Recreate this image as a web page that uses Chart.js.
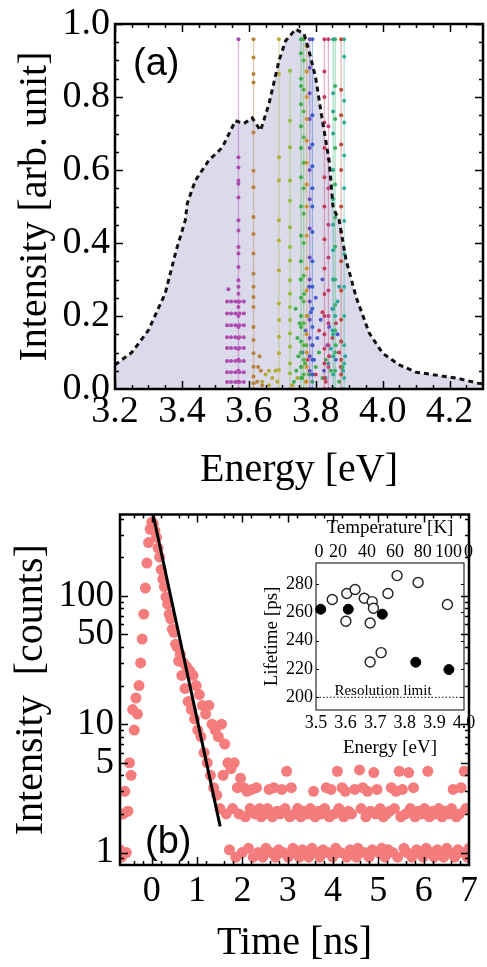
<!DOCTYPE html>
<html>
<head>
<meta charset="utf-8">
<script src="https://cdn.jsdelivr.net/npm/chart.js@4.4.1/dist/chart.umd.min.js"></script>
<style>
  html, body { margin: 0; padding: 0; background: #fff; }
  #page { position: relative; width: 487px; height: 967px; overflow: hidden; }
  .box { position: absolute; }
</style>
</head>
<body>
<div id="page">
  <canvas id="specChart" class="box" style="left:0;top:0" width="487" height="490"></canvas>
  <canvas id="decayChart" class="box" style="left:0;top:490px" width="487" height="477"></canvas>
  <canvas id="lifeChart" class="box" style="left:262px;top:515px" width="225" height="245"></canvas>
</div>
<script>
// ---------- (a) spectrum ----------
const energyTicks = [3.2, 3.4, 3.6, 3.8, 4.0, 4.2];
const intensityTicks = [0, 0.2, 0.4, 0.6, 0.8, 1.0];

// ensemble spectrum (dashed envelope)
const envEnergy = [3.20, 3.25, 3.30, 3.35, 3.383, 3.41, 3.416, 3.44, 3.48, 3.52, 3.56, 3.585, 3.61, 3.635, 3.66, 3.69, 3.71, 3.74, 3.765, 3.78, 3.80, 3.82, 3.84, 3.852, 3.87, 3.891, 3.921, 3.96, 4.0, 4.05, 4.1, 4.16, 4.22, 4.285, 4.3];
const envIntensity = [0.066, 0.10, 0.161, 0.262, 0.38, 0.462, 0.508, 0.571, 0.626, 0.661, 0.735, 0.727, 0.743, 0.708, 0.78, 0.899, 0.954, 0.986, 0.973, 0.926, 0.852, 0.735, 0.626, 0.497, 0.462, 0.352, 0.251, 0.153, 0.098, 0.066, 0.046, 0.038, 0.030, 0.016, 0.015];

// single-dot lines: energy of each line and the intensities of its dots
const lineEnergy = [3.569, 3.614, 3.690, 3.723, 3.756, 3.764, 3.773, 3.782, 3.790, 3.826, 3.838, 3.852, 3.858, 3.876, 3.885];
const lineLevels = [
  [0, 0.02, 0.05, 0.08, 0.11, 0.14, 0.17, 0.2, 0.225, 0.239, 0.261, 0.28, 0.298, 0.334, 0.371, 0.389, 0.434, 0.462, 0.525, 0.562, 0.571, 0.607, 0.635, 0.958],
  [0, 0.016, 0.034, 0.061, 0.098, 0.134, 0.17, 0.225, 0.252, 0.28, 0.316, 0.371, 0.425, 0.471, 0.553, 0.598, 0.703, 0.84, 0.863, 0.908, 0.958],
  [0, 0.052, 0.098, 0.143, 0.189, 0.234, 0.325, 0.407, 0.462, 0.571, 0.635, 0.863, 0.958],
  [0, 0.043, 0.07, 0.116, 0.152, 0.189, 0.225, 0.261, 0.298, 0.352, 0.389, 0.443, 0.516, 0.571, 0.662, 0.735, 0.872],
  [0, 0.03, 0.06, 0.1, 0.13, 0.17, 0.2, 0.25, 0.3, 0.35, 0.42, 0.5, 0.58, 0.66, 0.72, 0.78, 0.83, 0.85, 0.92, 0.958],
  [0, 0.04, 0.08, 0.12, 0.18, 0.24, 0.31, 0.4, 0.48, 0.55, 0.62, 0.69, 0.76, 0.82, 0.9, 0.958],
  [0, 0.02, 0.06, 0.1, 0.15, 0.2, 0.27, 0.33, 0.42, 0.5, 0.56, 0.62, 0.68, 0.74, 0.8, 0.87, 0.94],
  [0, 0.05, 0.09, 0.14, 0.19, 0.24, 0.3, 0.36, 0.44, 0.52, 0.6, 0.66, 0.74, 0.81, 0.88, 0.958],
  [0, 0.04, 0.08, 0.12, 0.17, 0.22, 0.28, 0.35, 0.43, 0.5, 0.55, 0.61, 0.67, 0.75, 0.958],
  [0, 0.03, 0.07, 0.11, 0.15, 0.2, 0.26, 0.33, 0.41, 0.5, 0.58, 0.66, 0.73, 0.8, 0.87, 0.958],
  [0, 0.06, 0.12, 0.18, 0.2, 0.27, 0.36, 0.45, 0.55, 0.63, 0.72, 0.958],
  [0, 0.04, 0.09, 0.15, 0.22, 0.3, 0.38, 0.45, 0.52, 0.6, 0.7, 0.76, 0.81, 0.958],
  [0, 0.05, 0.1, 0.16, 0.23, 0.3, 0.39, 0.47, 0.56, 0.66, 0.74, 0.83, 0.958],
  [0, 0.04, 0.08, 0.13, 0.19, 0.27, 0.35, 0.43, 0.5, 0.6, 0.67, 0.75, 0.82, 0.958],
  [0, 0.03, 0.07, 0.12, 0.2, 0.28, 0.37, 0.46, 0.55, 0.64, 0.73, 0.79, 0.91, 0.958]
];
const lineColors = ['#b04ab0', '#b8823a', '#b5b035', '#8fbf3a', '#3cae4a', '#55b04a', '#d0902a', '#6a4cc0', '#3a5fc8', '#c83a5a', '#c0407a', '#2aa890', '#3cb060', '#c04a3a', '#30b0a0'];

// magenta error-bar rows near 3.55 eV
const magentaRowEnergy = [3.535, 3.547, 3.56, 3.572, 3.585];
const magentaRowLevels = [0.019, 0.046, 0.077, 0.112, 0.142, 0.175, 0.207, 0.24];

// low-level dots of the crowded lines, [energy, intensity]
const greenLow = [[3.735, 0.02], [3.742, 0.05], [3.748, 0.09], [3.745, 0.14], [3.752, 0.18], [3.76, 0.03], [3.768, 0.07], [3.772, 0.12], [3.78, 0.04], [3.79, 0.02], [3.8, 0.06], [3.81, 0.1], [3.82, 0.03], [3.83, 0.08], [3.845, 0.05], [3.86, 0.12], [3.87, 0.02], [3.88, 0.06], [3.74, 0.22], [3.765, 0.26], [3.755, 0.3], [3.775, 0.2]];
const blueLow = [[3.76, 0.1], [3.77, 0.16], [3.785, 0.21], [3.795, 0.08], [3.805, 0.14], [3.815, 0.19], [3.825, 0.05], [3.835, 0.12], [3.84, 0.17], [3.85, 0.22], [3.86, 0.08], [3.865, 0.15], [3.78, 0.28], [3.8, 0.25], [3.82, 0.3]];
const redLow = [[3.8, 0.04], [3.81, 0.16], [3.82, 0.21], [3.83, 0.02], [3.84, 0.09], [3.85, 0.14], [3.86, 0.18], [3.87, 0.1], [3.875, 0.06], [3.79, 0.12], [3.775, 0.08]];
const tealLow = [[3.83, 0.03], [3.838, 0.07], [3.845, 0.11], [3.85, 0.16], [3.858, 0.2], [3.865, 0.24], [3.87, 0.28], [3.876, 0.13], [3.882, 0.05], [3.888, 0.09]];
const oliveLow = [[3.64, 0.02], [3.65, 0.04], [3.66, 0.05], [3.67, 0.03], [3.68, 0.05], [3.685, 0.02], [3.66, 0.01], [3.745, 0.03], [3.758, 0.06], [3.77, 0.02], [3.73, 0.01]];
const brownLow = [[3.625, 0.02], [3.628, 0.06], [3.632, 0.09], [3.636, 0.05], [3.64, 0.01]];

// ---------- (b) decay ----------
const timeTicks = [0, 1, 2, 3, 4, 5, 6, 7];
const countTicks = [1, 5, 10, 50, 100];
const binStart = -0.7;   // ns, first histogram bin
const binWidth = 0.035;  // ns
const counts = [
  1.05, 0.92, 2.0, 3.0, 1.0, 2.1, 5.0, 4.0, 13, 9, 16, 12, 20, 30, 46, 72, 115, 180, 260, 330,
  375, 365, 320, 285, 235, 200, 160, 135, 118, 98, 86, 72, 66, 55, 52, 42, 40, 31, 35, 24,
  30, 19, 28, 15, 26, 13, 24, 11, 20, 9, 17, 8, 14, 6, 12, 5, 14, 4, 10, 3.2,
  9, 2.8, 8, 2.2, 10, 4, 7, 2.0, 5, 1.05, 4.5, 2.2, 5, 0.92, 3.2, 2.0, 3.8, 1.0, 3.2, 1.9,
  3.0, 1.08, 2.2, 3.1, 0.92, 2.0, 3.2, 1.0, 2.2, 1.9, 0.92, 2.0, 1.08, 2.2, 3.1, 1.0, 1.9, 3.2, 0.92, 2.1,
  1.05, 2.0, 3.1, 1.0, 2.2, 4.3, 0.92, 1.9, 3.2, 1.08, 2.0, 1.0, 2.2, 0.92, 1.9, 1.05, 2.1, 1.0, 2.0, 0.92,
  2.2, 1.08, 3.0, 1.9, 1.0, 2.1, 0.92, 2.0, 1.05, 2.2, 3.2, 1.0, 1.9, 3.1, 0.92, 2.0, 1.08, 4.3, 2.2, 1.0,
  3.2, 1.9, 3.0, 0.92, 2.1, 1.05, 2.0, 1.0, 3.1, 0.92, 1.08, 4.4, 2.2, 3.2, 1.0, 1.9, 3.0, 0.92, 2.1, 1.05,
  4.2, 2.0, 3.1, 1.0, 2.2, 1.08, 1.9, 0.92, 2.0, 1.05, 2.1, 3.2, 1.0, 2.2, 3.0, 0.92, 4.3, 1.9, 3.1, 1.08,
  2.0, 1.0, 4.2, 2.2, 0.92, 3.2, 1.9, 1.05, 2.1, 1.0, 2.0, 0.92, 2.2, 1.08, 4.3, 1.9, 1.0, 2.1, 0.92, 2.0,
  1.05, 2.2, 1.0, 1.9, 0.92, 2.1, 1.08, 2.0, 1.0, 2.2, 3.1, 0.92, 1.9, 1.05, 2.0, 3.2, 1.0, 4.3, 2.2, 0.92,
  1.08
];
const fitTime = [0.03, 1.51];
const fitCounts = [430, 1.6];

// ---------- inset: lifetime vs energy ----------
const insetEnergyTicks = [3.5, 3.6, 3.7, 3.8, 3.9, 4.0];
const lifetimeTicks = [200, 220, 240, 260, 280];
const tempLabels = ['0', '20', '40', '60', '80', '100', '0'];
const tempTickEnergy = [3.51, 3.574, 3.672, 3.767, 3.861, 3.948, 4.0];
const filledEnergy = [3.516, 3.609, 3.724, 3.837, 3.949];
const filledLifetime = [262.3, 262.3, 258.8, 224.8, 219.6];
const openEnergy = [3.555, 3.604, 3.632, 3.601, 3.663, 3.690, 3.694, 3.683, 3.743, 3.774, 3.845, 3.944, 3.720, 3.683];
const openLifetime = [269.2, 273.4, 276.3, 253.8, 270.1, 267.7, 263.0, 252.6, 273.4, 286.1, 281.2, 265.6, 231.6, 225.0];
const resolutionLimit = 200;

// ---------- helpers / plugins ----------
Chart.defaults.font.family = "'Liberation Serif', 'Times New Roman', serif";
Chart.defaults.color = '#000';

const frameTicks = {
  id: 'frameTicks',
  afterDatasetsDraw(chart, args, o) {
    const { ctx, chartArea: a } = chart;
    const xs = chart.scales.x, ys = chart.scales.y;
    ctx.save();
    ctx.strokeStyle = '#000';
    ctx.lineWidth = o.tickWidth;
    ctx.beginPath();
    const xMark = (vals, len) => vals.forEach(v => {
      const px = Math.round(xs.getPixelForValue(v)) + 0.5;
      if (px < a.left || px > a.right) return;
      ctx.moveTo(px, a.bottom); ctx.lineTo(px, a.bottom - len);
      ctx.moveTo(px, a.top); ctx.lineTo(px, a.top + len);
    });
    const yMark = (vals, len) => vals.forEach(v => {
      const py = Math.round(ys.getPixelForValue(v)) + 0.5;
      if (py < a.top || py > a.bottom) return;
      ctx.moveTo(a.left, py); ctx.lineTo(a.left + len, py);
      ctx.moveTo(a.right, py); ctx.lineTo(a.right - len, py);
    });
    xMark(o.xMajor || [], o.majorLen); xMark(o.xMinor || [], o.minorLen);
    yMark(o.yMajor || [], o.majorLen); yMark(o.yMinor || [], o.minorLen);
    ctx.stroke();
    ctx.lineWidth = o.frameWidth;
    ctx.strokeRect(a.left, a.top, a.right - a.left, a.bottom - a.top);
    ctx.restore();
  }
};

const panelText = {
  id: 'panelText',
  afterDraw(chart, args, o) {
    const { ctx, chartArea: a } = chart;
    ctx.save();
    ctx.fillStyle = '#000';
    ctx.textBaseline = 'alphabetic';
    (o.items || []).forEach(it => {
      ctx.font = it.font;
      ctx.textAlign = it.align || 'left';
      ctx.fillText(it.text, a.left + it.dx, a.top + it.dy);
    });
    ctx.restore();
  }
};

function fixedTicks(values) {
  return scale => { scale.ticks = values.map(v => ({ value: v })); };
}

function steps(from, to, step, skipEvery) {
  const out = [];
  const n = Math.round((to - from) / step);
  for (let i = 0; i <= n; i++) {
    if (skipEvery && i % skipEvery === 0) continue;
    out.push(+(from + i * step).toFixed(4));
  }
  return out;
}

function withAlpha(hex, a) {
  const n = parseInt(hex.slice(1), 16);
  return `rgba(${n >> 16}, ${(n >> 8) & 255}, ${n & 255}, ${a})`;
}

// ---------- chart (a) ----------
const specDatasets = [];

lineEnergy.forEach((e, k) => {
  specDatasets.push({
    data: lineLevels[k].map(v => ({ x: e, y: v })),
    showLine: true,
    borderColor: withAlpha(lineColors[k], 0.4),
    borderWidth: 1.3,
    pointRadius: 2,
    pointBorderWidth: 0,
    pointBackgroundColor: lineColors[k]
  });
});

const magentaRows = [];
magentaRowLevels.forEach(lv => {
  magentaRowEnergy.forEach(e => magentaRows.push({ x: e, y: lv }));
  magentaRows.push({ x: magentaRowEnergy[magentaRowEnergy.length - 1], y: null });
});
magentaRows.push({ x: 3.539, y: 0.273 });
specDatasets.push({
  data: magentaRows,
  showLine: true,
  spanGaps: false,
  borderColor: withAlpha('#b04ab0', 0.5),
  borderWidth: 1.3,
  pointRadius: 2,
  pointBorderWidth: 0,
  pointBackgroundColor: '#b04ab0'
});

[[greenLow, '#3cae4a'], [blueLow, '#4a5ad0'], [redLow, '#c83a5a'], [tealLow, '#2aa8a0'], [oliveLow, '#b5a835'], [brownLow, '#b8823a']].forEach(([pts, c]) => {
  specDatasets.push({
    data: pts.map(p => ({ x: p[0], y: p[1] })),
    showLine: false,
    pointRadius: 2,
    pointBorderWidth: 0,
    pointBackgroundColor: c
  });
});

// ensemble envelope, drawn on top of the dots
specDatasets.push({
  label: 'ensemble',
  data: envEnergy.map((e, i) => ({ x: e, y: envIntensity[i] })),
  showLine: true,
  borderColor: '#111',
  borderWidth: 3,
  borderDash: [5, 4],
  pointRadius: 0,
  fill: 'origin',
  backgroundColor: 'rgb(218, 218, 235)',
  tension: 0,
  order: -1
});

new Chart(document.getElementById('specChart'), {
  type: 'scatter',
  data: { datasets: specDatasets },
  plugins: [frameTicks, panelText],
  options: {
    responsive: false,
    animation: false,
    layout: { padding: { left: 0, right: 4, top: 23, bottom: 0 } },
    plugins: {
      legend: { display: false },
      tooltip: { enabled: false },
      filler: { drawTime: 'beforeDatasetsDraw' },
      frameTicks: {
        xMajor: energyTicks, xMinor: steps(3.2, 4.3, 0.05, 4),
        yMajor: intensityTicks, yMinor: steps(0, 1, 0.05, 4),
        majorLen: 8, minorLen: 4, tickWidth: 1.5, frameWidth: 2.5
      },
      panelText: { items: [{ text: '(a)', dx: 18, dy: 51, font: "38px 'Liberation Sans', Arial, sans-serif" }] }
    },
    scales: {
      x: {
        type: 'linear', min: 3.2, max: 4.3,
        afterBuildTicks: fixedTicks(energyTicks),
        afterFit: s => { s.height = 101; },
        grid: { display: false, drawTicks: false },
        border: { display: false },
        ticks: { padding: 4, font: { size: 38, lineHeight: 1 }, callback: v => v.toFixed(1), autoSkip: false, maxRotation: 0 },
        title: { display: true, text: 'Energy [eV]', font: { size: 40, lineHeight: 1 }, padding: { top: 0, bottom: 0 } }
      },
      y: {
        type: 'linear', min: 0, max: 1,
        afterBuildTicks: fixedTicks(intensityTicks),
        afterFit: s => { s.width = 115; },
        grid: { display: false, drawTicks: false },
        border: { display: false },
        ticks: { padding: 5, font: { size: 38, lineHeight: 1 }, callback: v => v.toFixed(1) },
        title: { display: true, text: 'Intensity [arb. unit]', font: { size: 40, lineHeight: 1 }, padding: { top: 15, bottom: 0 } }
      }
    }
  }
});

// ---------- chart (b) ----------
const logMinor = [];
[0.1, 1, 10, 100].forEach(d => [2, 3, 4, 6, 7, 8, 9].forEach(m => logMinor.push(+(d * m).toFixed(3))));

new Chart(document.getElementById('decayChart'), {
  type: 'scatter',
  data: {
    datasets: [{
      label: 'fit',
      data: fitTime.map((t, i) => ({ x: t, y: fitCounts[i] })),
      showLine: true,
      borderColor: '#000',
      borderWidth: 3,
      pointRadius: 0
    }, {
      label: 'counts',
      data: counts.map((c, i) => ({ x: binStart + i * binWidth, y: c })),
      pointRadius: 5.5,
      pointBorderWidth: 0,
      pointBackgroundColor: 'rgb(245, 124, 124)'
    }]
  },
  plugins: [frameTicks, panelText],
  options: {
    responsive: false,
    animation: false,
    layout: { padding: { left: 0, right: 10, top: 17, bottom: 0 } },
    plugins: {
      legend: { display: false },
      tooltip: { enabled: false },
      frameTicks: {
        xMajor: timeTicks, xMinor: steps(-0.6, 7, 0.2, 5),
        yMajor: countTicks, yMinor: logMinor,
        majorLen: 8, minorLen: 4, tickWidth: 1.5, frameWidth: 2.5
      },
      panelText: { items: [{ text: '(b)', dx: 25, dy: 338, font: "38px 'Liberation Sans', Arial, sans-serif" }] }
    },
    scales: {
      x: {
        type: 'linear', min: -0.7, max: 7,
        afterBuildTicks: fixedTicks(timeTicks),
        afterFit: s => { s.height = 102; },
        grid: { display: false, drawTicks: false },
        border: { display: false },
        ticks: { padding: 9, font: { size: 36, lineHeight: 1 }, callback: v => String(v), autoSkip: false, maxRotation: 0 },
        title: { display: true, text: 'Time [ns]', font: { size: 40, lineHeight: 1 }, padding: { top: 0, bottom: 4 } }
      },
      y: {
        type: 'logarithmic', min: 0.8, max: 430,
        afterBuildTicks: fixedTicks(countTicks),
        afterFit: s => { s.width = 120; },
        grid: { display: false, drawTicks: false },
        border: { display: false },
        ticks: { padding: 6, font: { size: 37, lineHeight: 1 }, callback: v => String(v) },
        title: { display: true, text: 'Intensity  [counts]', font: { size: 40, lineHeight: 1 }, padding: { top: 11, bottom: 0 } }
      }
    }
  }
});

// ---------- inset ----------
new Chart(document.getElementById('lifeChart'), {
  type: 'scatter',
  data: {
    datasets: [{
      label: 'filled',
      data: filledEnergy.map((e, i) => ({ x: e, y: filledLifetime[i] })),
      pointRadius: 5,
      pointBorderWidth: 1,
      pointBorderColor: '#000',
      pointBackgroundColor: '#000',
      clip: 8
    }, {
      label: 'open',
      data: openEnergy.map((e, i) => ({ x: e, y: openLifetime[i] })),
      pointRadius: 5,
      pointBorderWidth: 1.4,
      pointBorderColor: '#222',
      pointBackgroundColor: '#fff',
      clip: 8
    }, {
      label: 'limit',
      data: [{ x: 3.5, y: resolutionLimit }, { x: 4.0, y: resolutionLimit }],
      showLine: true,
      borderColor: '#000',
      borderWidth: 1,
      borderDash: [1.5, 2],
      pointRadius: 0
    }]
  },
  plugins: [frameTicks, panelText],
  options: {
    responsive: false,
    animation: false,
    layout: { padding: { left: 0, right: 23, top: 0, bottom: 0 } },
    plugins: {
      legend: { display: false },
      tooltip: { enabled: false },
      frameTicks: {
        xMajor: [], yMajor: lifetimeTicks,
        majorLen: 3, minorLen: 0, tickWidth: 1, frameWidth: 1
      },
      panelText: { items: [{ text: 'Resolution limit', dx: 67, dy: 132, align: 'center', font: "15px 'Liberation Serif', serif" }] }
    },
    scales: {
      x: {
        type: 'linear', min: 3.5, max: 4.0,
        afterBuildTicks: fixedTicks(insetEnergyTicks),
        afterFit: s => { s.height = 50; },
        grid: { display: false, drawTicks: false },
        border: { display: false },
        ticks: { padding: 4, font: { size: 18, lineHeight: 1 }, callback: v => v.toFixed(1), autoSkip: false, maxRotation: 0 },
        title: { display: true, text: 'Energy [eV]', font: { size: 19, lineHeight: 1 }, padding: { top: 0, bottom: 2 } }
      },
      x2: {
        type: 'linear', position: 'top', min: 3.5, max: 4.0,
        afterBuildTicks: fixedTicks(tempTickEnergy),
        afterFit: s => { s.height = 48; },
        grid: { display: false, drawTicks: false },
        border: { display: false },
        ticks: {
          padding: 2, font: { size: 18, lineHeight: 1 }, autoSkip: false, maxRotation: 0,
          // the trailing "0" sits just past the frame corner
          callback: (v, i) => (i === tempLabels.length - 1 ? '\u2002' : '') + tempLabels[i]
        },
        title: { display: true, text: 'Temperature [K]', font: { size: 19, lineHeight: 1 }, padding: { top: 4, bottom: 0 } }
      },
      y: {
        type: 'linear', min: 191, max: 295,
        afterBuildTicks: fixedTicks(lifetimeTicks),
        afterFit: s => { s.width = 54; },
        grid: { display: false, drawTicks: false },
        border: { display: false },
        ticks: { padding: 3, font: { size: 18, lineHeight: 1 }, callback: v => String(v) },
        title: { display: true, text: 'Lifetime [ps]', font: { size: 19, lineHeight: 1 }, padding: { top: 1, bottom: 0 } }
      }
    }
  }
});
</script>
</body>
</html>
